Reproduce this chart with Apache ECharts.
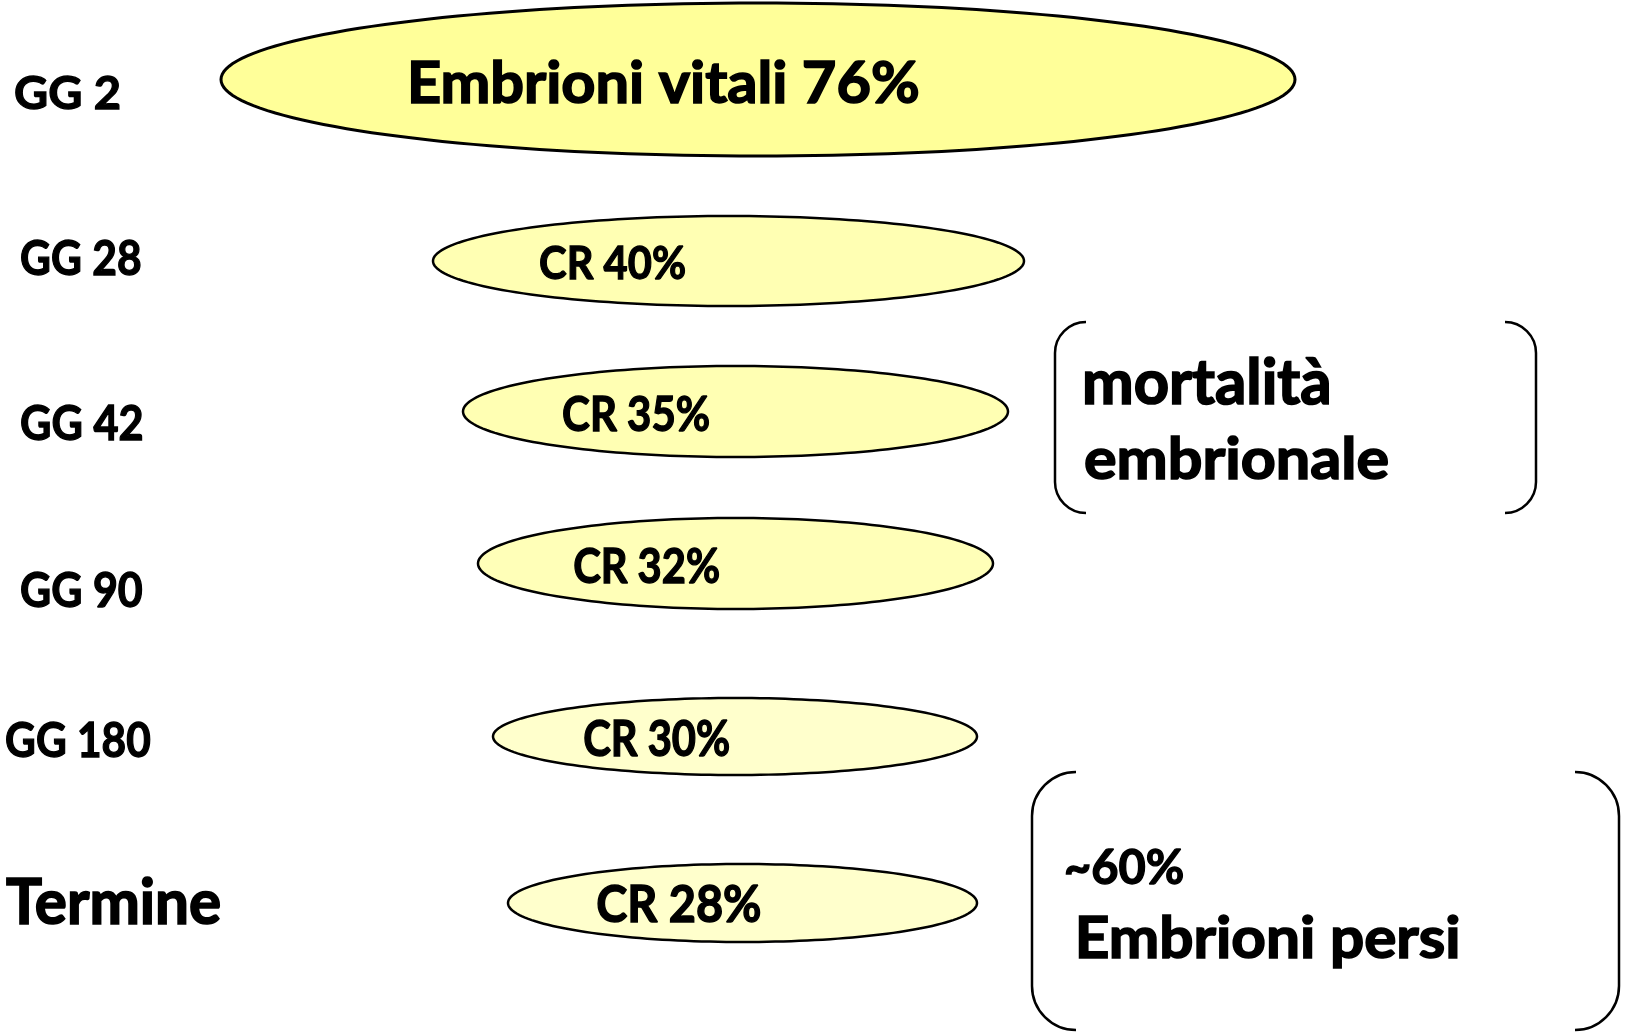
<!DOCTYPE html>
<html>
<head>
<meta charset="utf-8">
<script src="https://cdn.jsdelivr.net/npm/echarts@6/dist/echarts.min.js"></script>
<style>
html, body { margin: 0; padding: 0; background: #fff; }
#chart { width: 1627px; height: 1032px; }
</style>
</head>
<body>
<div id="chart"></div>
<script>
// stages of pregnancy and survival rate of the embryos
const stages = ['GG 2', 'GG 28', 'GG 42', 'GG 90', 'GG 180', 'Termine'];
const survivalPct = [76, 40, 35, 32, 30, 28];
const lostPct = 60;
const ellipseLabels = survivalPct.map((v, i) => (i === 0 ? 'Embrioni vitali ' : 'CR ') + v + '%');
const mortalityLines = ['mortalità', 'embrionale'];
const lostLines = ['~' + lostPct + '%', 'Embrioni persi'];

// layout, in units of the hidden axes (same as canvas px)
const ellipseLeft = [221, 433, 463, 478, 493, 508];
const ellipseRight = [1295, 1024, 1008, 993, 977, 977];
const ellipseMidY = [79.5, 261, 411.5, 563.5, 736.5, 903];
const ellipseHalfH = [76.5, 45, 45.5, 45.5, 38.5, 39];
const ellipseFill = ['#ffff99', '#ffffb3', '#ffffb3', '#ffffb8', '#ffffcc', '#ffffcc'];
// text boxes: [left, top of ink, baseline, right]
const ellipseTextBox = [
  [411, 60, 103, 918], [540, 246, 280, 685], [563, 396, 431, 709],
  [574, 548, 583, 719], [584, 720, 756, 729], [598, 885, 923, 760]
];
const stageTextBox = [
  [15, 76, 110, 119], [21, 240, 275, 140], [21, 405, 440, 142],
  [21, 572, 607, 142], [6, 722, 757, 150], [6, 877, 923, 220]
];
const mortalityTextBox = [[1085, 357, 403, 1329], [1085, 436, 479, 1388]];
const lostTextBox = [[1066, 849, 884, 1183], [1079, 915, 957, 1458]];
// brackets: [x left, x right, top, bottom, tip offset, corner radius]
const brackets = [[1055, 1536, 322, 513, 31, 31], [1032, 1619, 772, 1030, 44, 44]];

const FONT = 'Lato, "Open Sans", sans-serif';
const measureCtx = document.createElement('canvas').getContext('2d');

// fit bold text into a box: height sets font size, width sets horizontal scale
function fitText(str, box, api) {
  const p0 = api.coord([box[0], box[1]]);
  const p1 = api.coord([box[3], box[2]]);
  const h = p1[1] - p0[1], w = p1[0] - p0[0];
  measureCtx.font = 'bold 100px ' + FONT;
  measureCtx.textBaseline = 'alphabetic';
  const asc = measureCtx.measureText(str).actualBoundingBoxAscent / 100;
  const fs = h / asc;
  measureCtx.font = 'bold ' + fs + 'px ' + FONT;
  measureCtx.textBaseline = 'middle';
  const m = measureCtx.measureText(str);
  const inkW = m.actualBoundingBoxLeft + m.actualBoundingBoxRight;
  const sx = w / inkW;
  return {
    type: 'text',
    x: p0[0] + sx * m.actualBoundingBoxLeft,
    y: p0[1] + m.actualBoundingBoxAscent,
    scaleX: sx,
    style: {
      text: str, font: 'bold ' + fs + 'px ' + FONT, fill: '#000',
      stroke: '#000', lineWidth: fs * 0.028,
      align: 'left', verticalAlign: 'middle'
    }
  };
}

function renderEllipse(params, api) {
  const i = params.dataIndex;
  const cx = (ellipseLeft[i] + ellipseRight[i]) / 2;
  const rx = (ellipseRight[i] - ellipseLeft[i]) / 2;
  const cy = ellipseMidY[i], ry = ellipseHalfH[i];
  const pts = [];
  for (let k = 0; k < 180; k++) {
    const t = k / 180 * Math.PI * 2;
    pts.push(api.coord([cx + rx * Math.cos(t), cy + ry * Math.sin(t)]));
  }
  return {
    type: 'group',
    children: [
      { type: 'polygon', shape: { points: pts }, style: { fill: ellipseFill[i], stroke: '#000', lineWidth: i === 0 ? 3 : 2.5 } },
      fitText(ellipseLabels[i], ellipseTextBox[i], api)
    ]
  };
}

function renderStage(params, api) {
  const i = params.dataIndex;
  return fitText(stages[i], stageTextBox[i], api);
}

function bracketPath(b, api) {
  const xl = b[0], xr = b[1], top = b[2], bot = b[3], dx = b[4], r = b[5];
  const k = 0.45;
  const P = (x, y) => api.coord([x, y]).join(' ');
  const left = 'M' + P(xl + dx, top) + ' C' + P(xl + dx * k, top) + ' ' + P(xl, top + r * k) + ' ' + P(xl, top + r) +
    ' L' + P(xl, bot - r) + ' C' + P(xl, bot - r * k) + ' ' + P(xl + dx * k, bot) + ' ' + P(xl + dx, bot);
  const right = ' M' + P(xr - dx, top) + ' C' + P(xr - dx * k, top) + ' ' + P(xr, top + r * k) + ' ' + P(xr, top + r) +
    ' L' + P(xr, bot - r) + ' C' + P(xr, bot - r * k) + ' ' + P(xr - dx * k, bot) + ' ' + P(xr - dx, bot);
  return left + right;
}

function renderNote(params, api) {
  const i = params.dataIndex;
  const lines = i === 0 ? mortalityLines : lostLines;
  const boxes = i === 0 ? mortalityTextBox : lostTextBox;
  return {
    type: 'group',
    children: [
      { type: 'path', shape: { pathData: bracketPath(brackets[i], api) }, style: { fill: 'none', stroke: '#000', lineWidth: 2.5 } },
      fitText(lines[0], boxes[0], api),
      fitText(lines[1], boxes[1], api)
    ]
  };
}

const chart = echarts.init(document.getElementById('chart'));
chart.setOption({
  animation: false,
  backgroundColor: '#fff',
  grid: { left: 0, right: 0, top: 0, bottom: 0 },
  xAxis: { type: 'value', min: 0, max: 1627, show: false },
  yAxis: { type: 'value', min: 0, max: 1032, inverse: true, show: false },
  series: [
    {
      type: 'custom', name: 'sopravvivenza', renderItem: renderEllipse, clip: false,
      data: survivalPct.map((v, i) => [ellipseLeft[i], ellipseMidY[i], v]),
      encode: { x: 0, y: 1 }
    },
    {
      type: 'custom', name: 'stadi', renderItem: renderStage, clip: false,
      data: stages.map((s, i) => [stageTextBox[i][0], stageTextBox[i][1]]),
      encode: { x: 0, y: 1 }
    },
    {
      type: 'custom', name: 'note', renderItem: renderNote, clip: false,
      data: brackets.map(b => [b[0], b[2]]),
      encode: { x: 0, y: 1 }
    }
  ]
});
</script>
</body>
</html>
